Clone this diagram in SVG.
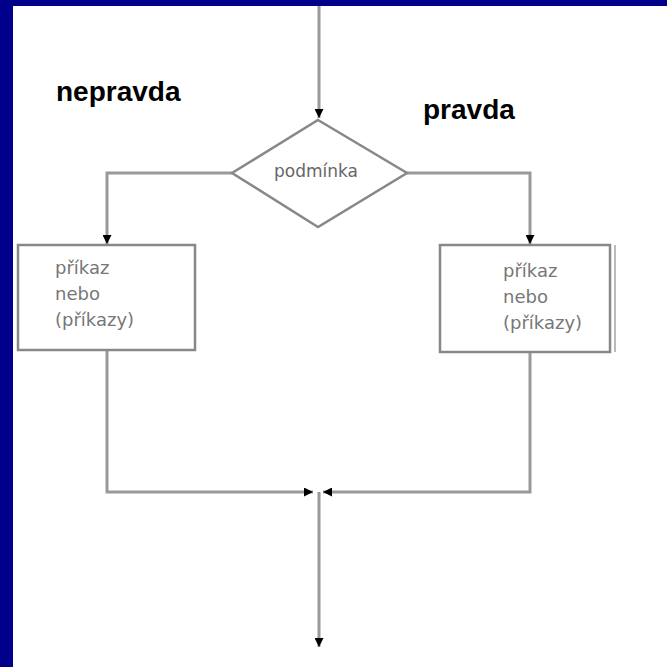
<svg xmlns="http://www.w3.org/2000/svg" width="667" height="667" viewBox="0 0 667 667">
<style>
.ln{fill:none;stroke:#999;stroke-width:3}
.bx{fill:#fff;stroke:#888;stroke-width:2.5}
.lbl{font-family:"Liberation Sans",Arial,sans-serif;font-size:28px;font-weight:bold;fill:#000}
.t{font-family:"DejaVu Sans",Verdana,sans-serif;font-size:18px;fill:#777}
.c{font-family:"DejaVu Sans",Verdana,sans-serif;font-size:17px;fill:#666}
</style>
<defs>
<marker id="ah" viewBox="0 0 10 10" refX="10" refY="5" markerWidth="9" markerHeight="9" markerUnits="userSpaceOnUse" orient="auto">
<path d="M0,0 L10,5 L0,10 z" fill="#000"/>
</marker>
</defs>
<rect x="0" y="0" width="667" height="667" fill="#fff"/>
<rect x="0" y="0" width="667" height="6" fill="#00008b"/>
<rect x="0" y="0" width="13" height="667" fill="#00008b"/>
<g id="connectors">
<line class="ln" x1="319" y1="6" x2="319" y2="118" marker-end="url(#ah)"/>
<polyline class="ln" points="232,173 107,173 107,244" marker-end="url(#ah)"/>
<polyline class="ln" points="407,173 530,173 530,244" marker-end="url(#ah)"/>
<polyline class="ln" points="107,350 107,492 313,492" marker-end="url(#ah)"/>
<polyline class="ln" points="530,352 530,492 323,492" marker-end="url(#ah)"/>
<line class="ln" x1="319" y1="492" x2="319" y2="647" marker-end="url(#ah)"/>
</g>
<g id="label-nepravda"><text class="lbl" x="56" y="101">nepravda</text></g>
<g id="label-pravda"><text class="lbl" x="423" y="119">pravda</text></g>
<g id="condition">
<polygon points="318,120 407,173 318,227 232,173" fill="#fff" stroke="#888" stroke-width="2.5"/>
<text class="c" x="316" y="177" text-anchor="middle">podmínka</text>
</g>
<g id="box-false">
<rect class="bx" x="18" y="245" width="177" height="105"/>
<text class="t" x="55" y="274">příkaz</text>
<text class="t" x="55" y="300">nebo</text>
<text class="t" x="55" y="326">(příkazy)</text>
</g>
<g id="box-true">
<rect class="bx" x="440" y="245" width="170" height="107"/>
<line x1="615" y1="245" x2="615" y2="352" stroke="#bbb" stroke-width="2"/>
<text class="t" x="503" y="277">příkaz</text>
<text class="t" x="503" y="303">nebo</text>
<text class="t" x="503" y="329">(příkazy)</text>
</g>
</svg>
